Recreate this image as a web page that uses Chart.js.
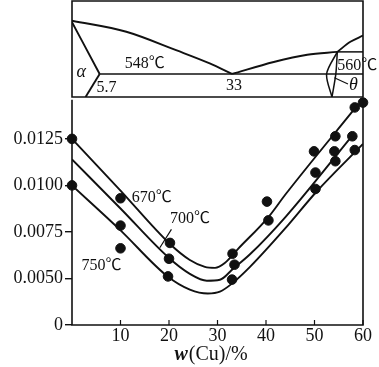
<!DOCTYPE html>
<html lang="zh">
<head>
<meta charset="UTF-8">
<title>Al-Cu 合金</title>
<script src="https://cdn.jsdelivr.net/npm/chart.js"></script>
<style>
  body { margin: 0; background: #fff; }
  #wrap { position: relative; width: 379px; height: 367px; }
  #inset { position: absolute; left: 0; top: 0; }
  #main { position: absolute; left: 0; top: 87px; }
</style>
</head>
<body>
<div id="wrap">
  <canvas id="inset" width="379" height="99"></canvas>
  <canvas id="main" width="379" height="280"></canvas>
</div>
<script>
// ---- 下图：数据点 ----
const dotCu  = [0, 0, 10, 10, 10, 20.2, 20, 19.8, 33.1, 33.5, 33, 40.2, 40.5, 49.9, 50.2, 50.2, 54.3, 54.1, 54.3, 57.8, 58.3, 58.3, 60];
const dotVal = [0.0125, 0.0100, 0.00931, 0.00784, 0.00662, 0.00691, 0.00606, 0.00511, 0.00633, 0.00574, 0.00494, 0.00913, 0.00812, 0.01183, 0.01069, 0.00981, 0.01264, 0.01183, 0.0113, 0.01264, 0.0119, 0.01419, 0.01445];

// 曲线 670℃ / 700℃ / 750℃
const c670Cu  = [0, 10, 20.2, 24.3, 27.4, 29.5, 31.5, 34.2, 40.5, 44, 58.5];
const c670Val = [0.0125, 0.00972, 0.00685, 0.00599, 0.00562, 0.00557, 0.00583, 0.00658, 0.0083, 0.00951, 0.01419];
const c700Cu  = [0, 10, 20, 24.3, 27.8, 30.5, 33.2, 36.7, 44, 57.8];
const c700Val = [0.0114, 0.00876, 0.0061, 0.00525, 0.00488, 0.00493, 0.00552, 0.0063, 0.0083, 0.01268];
const c750Cu  = [0, 9.8, 19.8, 24.3, 28, 30.5, 33.2, 36.7, 44, 50.4, 60];
const c750Val = [0.0100, 0.00764, 0.00509, 0.0044, 0.00419, 0.00429, 0.00477, 0.00562, 0.0077, 0.00966, 0.01223];
const lead700Cu  = [18.1, 20.5];
const lead700Val = [0.00665, 0.00764];

const xTicks = [10, 20, 30, 40, 50, 60];
const yTicks = [0.0025, 0.0050, 0.0075, 0.0100, 0.0125];   // 0.0025 处标 "0"（断轴）

// ---- 上图：Al-Cu 相图 ----
const liqLCu = [0, 11.2, 21.6, 28.4, 33];
const liqLT  = [659, 636, 597, 570, 548];
const liqRCu = [33, 41.6, 48.5, 54.7];
const liqRT  = [548, 573, 588, 594];
const arcCu  = [54.7, 57.4, 60];
const arcT   = [594, 615, 628];
const topHCu = [54.7, 60];
const topHT  = [594, 594];
const eutCu  = [5.7, 60];
const eutT   = [548, 548];
const solCu  = [0, 5.7];
const solT   = [656, 548];
const solvCu = [5.7, 2.8];
const solvT  = [548, 500];
const lensLCu = [54.7, 52.5, 53.6];
const lensLT  = [594, 548, 500];
const lensRCu = [54.7, 54.4, 53.6];
const lensRT  = [594, 548, 500];
const thLeadCu = [54.1, 56.9];
const thLeadT  = [540, 527];

const SERIF = '"Liberation Serif", "Noto Sans CJK SC", serif';
const INK = '#111';

const pts = (xs, ys) => xs.map((x, i) => ({ x: x, y: ys[i] }));
const line = (xs, ys, w, extra) => Object.assign({
  data: pts(xs, ys), showLine: true, borderColor: INK, borderWidth: w || 1.9,
  pointRadius: 0, fill: false, cubicInterpolationMode: 'monotone'
}, extra || {});

// 边框 + 文字
const frame = {
  id: 'frame',
  afterDraw(chart) {
    const { ctx, chartArea: a, scales } = chart;
    const o = chart.options.plugins.frame || {};
    ctx.save();
    ctx.strokeStyle = INK;
    ctx.lineWidth = 1.6;
    ctx.beginPath();
    if (o.noTop) {
      ctx.moveTo(a.left, a.top); ctx.lineTo(a.left, a.bottom);
      ctx.lineTo(a.right, a.bottom); ctx.lineTo(a.right, a.top);
    } else {
      ctx.rect(a.left, a.top, a.right - a.left, a.bottom - a.top);
    }
    ctx.stroke();
    if (o.innerTicks) {
      ctx.lineWidth = 1.2;
      scales.x.ticks.forEach(t => {
        const px = scales.x.getPixelForValue(t.value);
        ctx.beginPath(); ctx.moveTo(px, a.bottom); ctx.lineTo(px, a.bottom - 5); ctx.stroke();
      });
    }
    ctx.fillStyle = INK;
    ctx.textBaseline = 'middle';
    (o.texts || []).forEach(t => {
      ctx.font = (t.italic ? 'italic ' : '') + (t.size || 16) + 'px ' + SERIF;
      ctx.textAlign = t.align || 'center';
      ctx.fillText(t.text, scales.x.getPixelForValue(t.x), scales.y.getPixelForValue(t.y));
    });
    if (o.xTitle) {
      const cx = (a.left + a.right) / 2 - 7, cy = chart.height - 12;
      ctx.font = 'bold italic 20px ' + SERIF;
      const w1 = ctx.measureText('w').width;
      ctx.font = '20px ' + SERIF;
      const w2 = ctx.measureText('(Cu)/%').width;
      const x0 = cx - (w1 + w2) / 2;
      ctx.textAlign = 'left';
      ctx.font = 'bold italic 20px ' + SERIF;
      ctx.fillText('w', x0, cy);
      ctx.font = '20px ' + SERIF;
      ctx.fillText('(Cu)/%', x0 + w1 + 1, cy);
    }
    ctx.restore();
  }
};

new Chart(document.getElementById('inset'), {
  type: 'scatter',
  data: {
    datasets: [
      line(liqLCu, liqLT), line(liqRCu, liqRT), line(arcCu, arcT),
      line(topHCu, topHT, 1.5), line(eutCu, eutT, 1.6), line(solCu, solT),
      line(solvCu, solvT), line(lensLCu, lensLT, 1.5, { cubicInterpolationMode: 'default', tension: 0.3 }),
      line(lensRCu, lensRT, 1.5, { cubicInterpolationMode: 'default', tension: 0.3 }),
      line(thLeadCu, thLeadT, 1.2)
    ]
  },
  options: {
    responsive: false, animation: false,
    layout: { padding: { left: 72, right: 16, top: 1, bottom: 2 } },
    scales: {
      x: { type: 'linear', min: 0, max: 60, display: false },
      y: { type: 'linear', min: 500, max: 700, display: false }
    },
    plugins: {
      legend: { display: false }, tooltip: { enabled: false },
      frame: {
        texts: [
          { text: '548℃', x: 15, y: 569 },
          { text: 'α', x: 1.9, y: 551, italic: true, size: 18 },
          { text: '5.7', x: 7.1, y: 519 },
          { text: '33', x: 33.4, y: 524 },
          { text: '560℃', x: 58.8, y: 566 },
          { text: 'θ', x: 58, y: 524, italic: true, size: 18 }
        ]
      }
    }
  },
  plugins: [frame]
});

new Chart(document.getElementById('main'), {
  type: 'scatter',
  data: {
    datasets: [
      line(c670Cu, c670Val), line(c700Cu, c700Val), line(c750Cu, c750Val),
      line(lead700Cu, lead700Val, 1.2),
      { data: pts(dotCu, dotVal), backgroundColor: INK, borderColor: INK, pointRadius: 4.8, clip: false }
    ]
  },
  options: {
    responsive: false, animation: false,
    layout: { padding: { left: 0, right: 16, top: 10, bottom: 0 } },
    scales: {
      x: {
        type: 'linear', min: 0, max: 60,
        afterBuildTicks: s => { s.ticks = xTicks.map(v => ({ value: v })); },
        afterFit: s => { s.height = 42; },
        grid: { display: false, drawTicks: false },
        border: { display: false },
        ticks: { color: INK, font: { family: SERIF, size: 18 }, padding: 0, maxRotation: 0 }
      },
      y: {
        type: 'linear', min: 0.0025, max: 0.0146,
        afterBuildTicks: s => { s.ticks = yTicks.map(v => ({ value: v })); },
        afterFit: s => { s.width = 72; },
        grid: { drawOnChartArea: false, drawTicks: true, tickLength: 7, color: INK, lineWidth: 1.4 },
        border: { display: false },
        ticks: {
          color: INK, font: { family: SERIF, size: 18 }, padding: 2,
          callback: v => (v < 0.003 ? '0' : v.toFixed(4))
        }
      }
    },
    plugins: {
      legend: { display: false }, tooltip: { enabled: false },
      frame: {
        noTop: true, innerTicks: true, xTitle: true,
        texts: [
          { text: '670℃', x: 12.3, y: 0.00935, align: 'left' },
          { text: '700℃', x: 20.2, y: 0.00823, align: 'left' },
          { text: '750℃', x: 1.95, y: 0.00568, align: 'left' }
        ]
      }
    }
  },
  plugins: [frame]
});
</script>
</body>
</html>
